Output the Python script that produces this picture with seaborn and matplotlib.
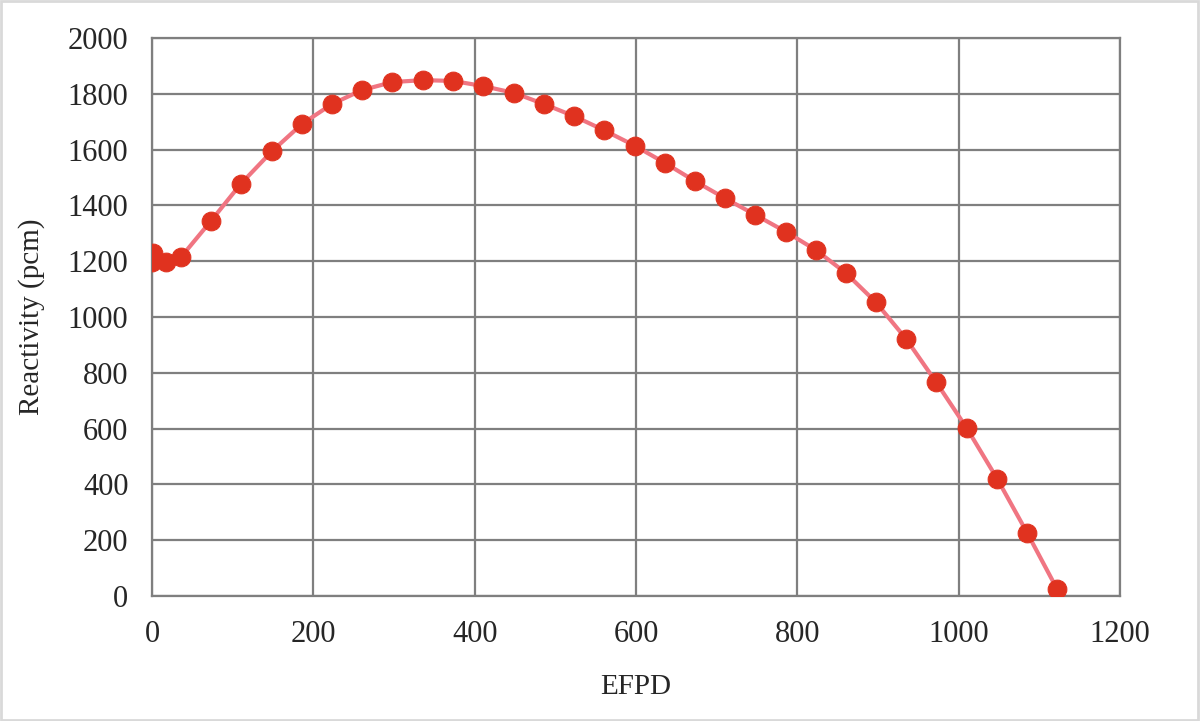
import matplotlib
matplotlib.use("Agg")
import matplotlib.pyplot as plt
import seaborn as sns
import pandas as pd
from matplotlib.patches import Rectangle

efpd = [0, 1, 17, 36, 73, 110, 149, 186, 223, 260, 298, 336, 373, 410, 449,
        486, 523, 560, 599, 636, 673, 710, 748, 786, 823, 860, 897, 935, 972,
        1010, 1048, 1085, 1122]
reactivity = [1197, 1228, 1197, 1215, 1344, 1477, 1595, 1692, 1763, 1813, 1842,
              1849, 1846, 1828, 1803, 1763, 1720, 1670, 1613, 1552, 1487, 1426,
              1366, 1305, 1240, 1158, 1054, 921, 767, 602, 419, 226, 25]
x_ticks = [0, 200, 400, 600, 800, 1000, 1200]
y_ticks = [0, 200, 400, 600, 800, 1000, 1200, 1400, 1600, 1800, 2000]

sns.set_style("white")
plt.rcParams["font.family"] = ["Liberation Serif", "DejaVu Serif"]

df = pd.DataFrame({"EFPD": efpd, "Reactivity": reactivity})

fig = plt.figure(figsize=(12, 7.21), dpi=100)
ax = fig.add_axes([0.1267, 0.1734, 0.9333 - 0.1267, 0.9473 - 0.1734])

sns.lineplot(
    data=df, x="EFPD", y="Reactivity", ax=ax, sort=False, estimator=None,
    color="#f07582", linewidth=3, marker="o", markersize=13.5,
    markerfacecolor="#e0321f", markeredgecolor="#e0321f", zorder=3,
)

ax.set_xlim(0, 1200)
ax.set_ylim(0, 2000)
ax.set_xticks(x_ticks)
ax.set_yticks(y_ticks)
ax.grid(True, color="#7f7f7f", linewidth=1.6)
ax.set_axisbelow(True)
for sp in ax.spines.values():
    sp.set_color("#7f7f7f")
    sp.set_linewidth(1.6)
ax.tick_params(length=0, labelsize=22, pad=17)
ax.set_xlabel("EFPD", fontsize=21, labelpad=18)
ax.set_ylabel("Reactivity (pcm)", fontsize=21, labelpad=16)

fig.patches.append(Rectangle((0.001, 0.002), 0.997, 0.996, transform=fig.transFigure,
                             fill=False, edgecolor="#d9d9d9", linewidth=2))

fig.savefig("out.png", dpi=100)
